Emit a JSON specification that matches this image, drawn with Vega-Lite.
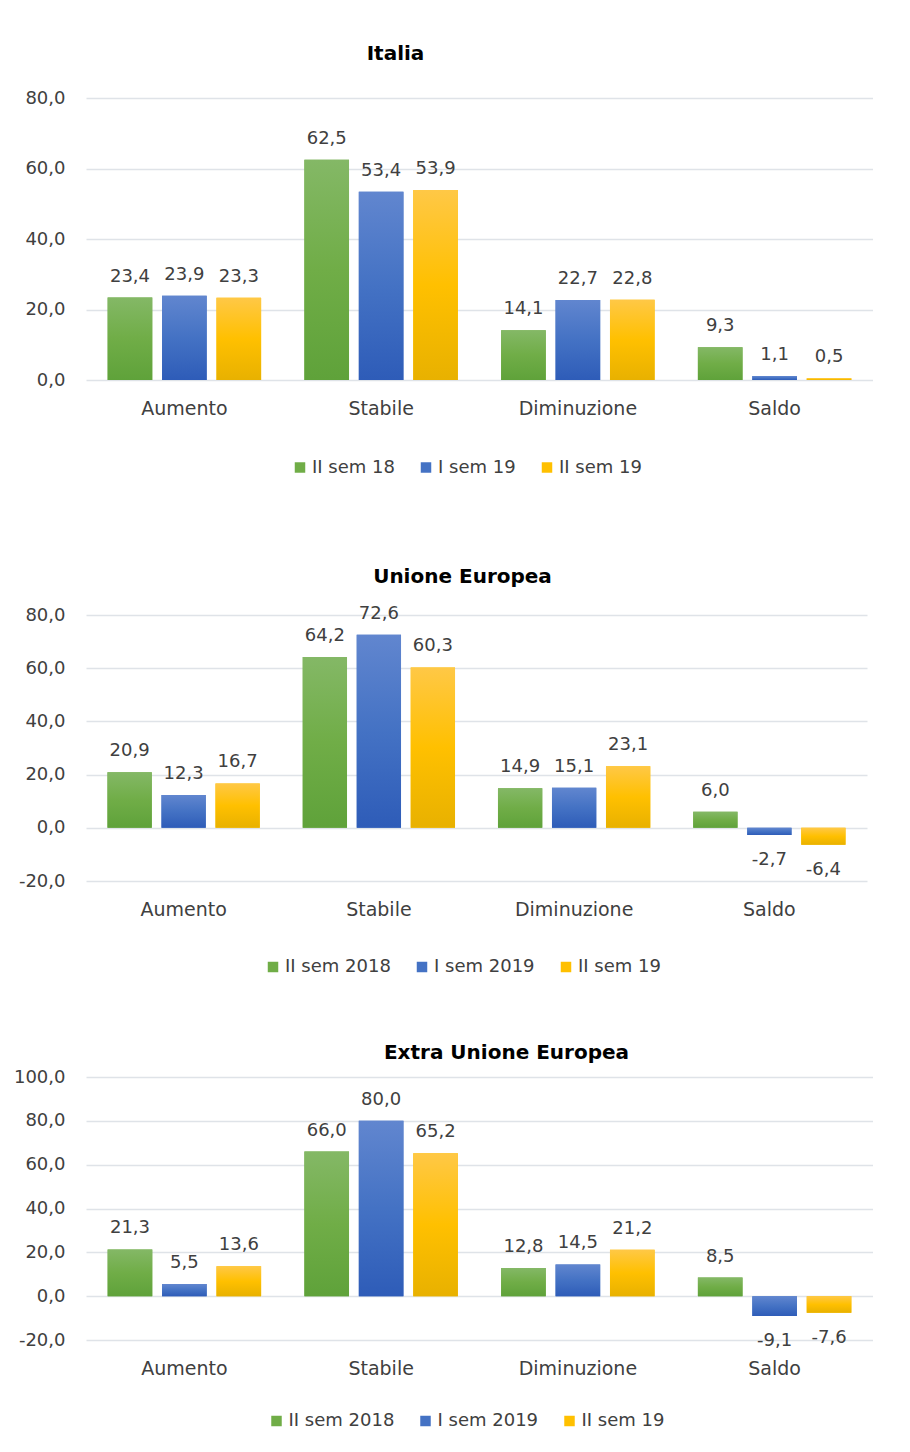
{
  "$schema": "https://vega.github.io/schema/vega-lite/v6.json",
  "background": "white",
  "padding": {"left": 13, "top": 44, "right": 0, "bottom": 0},
  "spacing": 67,
  "config": {
    "locale": {"number": {"decimal": ",", "thousands": ".", "grouping": [3], "currency": ["€", ""], "minus": "-"}},
    "font": "DejaVu Sans",
    "view": {"stroke": null},
    "title": {"fontSize": 20, "fontWeight": "bold", "color": "#000000", "font": "DejaVu Sans"},
    "axis": {"labelFont": "DejaVu Sans", "labelFontSize": 18, "labelColor": "#404040", "domain": false, "ticks": false, "gridColor": "#dfe3e8", "gridWidth": 1.5, "title": null},
    "axisX": {"labelAngle": 0, "labelPadding": 19, "grid": false, "labelFontSize": 19},
    "axisY": {"labelPadding": 21, "format": ".1f"},
    "legend": {"orient": "none", "direction": "horizontal", "title": null, "symbolType": "square", "symbolSize": 110, "symbolStrokeWidth": 0, "labelFont": "DejaVu Sans", "labelFontSize": 18, "labelColor": "#404040", "columnPadding": 22, "labelOffset": 3},
    "text": {"font": "DejaVu Sans", "fontSize": 18, "fill": "#404040"}
  },
  "datasets": {
    "italia": [
      {"categoria": "Aumento", "serie": "II sem 18", "valore": 23.4},
      {"categoria": "Aumento", "serie": "I sem 19", "valore": 23.9},
      {"categoria": "Aumento", "serie": "II sem 19", "valore": 23.3},
      {"categoria": "Stabile", "serie": "II sem 18", "valore": 62.5},
      {"categoria": "Stabile", "serie": "I sem 19", "valore": 53.4},
      {"categoria": "Stabile", "serie": "II sem 19", "valore": 53.9},
      {"categoria": "Diminuzione", "serie": "II sem 18", "valore": 14.1},
      {"categoria": "Diminuzione", "serie": "I sem 19", "valore": 22.7},
      {"categoria": "Diminuzione", "serie": "II sem 19", "valore": 22.8},
      {"categoria": "Saldo", "serie": "II sem 18", "valore": 9.3},
      {"categoria": "Saldo", "serie": "I sem 19", "valore": 1.1},
      {"categoria": "Saldo", "serie": "II sem 19", "valore": 0.5}
    ],
    "ue": [
      {"categoria": "Aumento", "serie": "II sem 2018", "valore": 20.9},
      {"categoria": "Aumento", "serie": "I sem 2019", "valore": 12.3},
      {"categoria": "Aumento", "serie": "II sem 19", "valore": 16.7},
      {"categoria": "Stabile", "serie": "II sem 2018", "valore": 64.2},
      {"categoria": "Stabile", "serie": "I sem 2019", "valore": 72.6},
      {"categoria": "Stabile", "serie": "II sem 19", "valore": 60.3},
      {"categoria": "Diminuzione", "serie": "II sem 2018", "valore": 14.9},
      {"categoria": "Diminuzione", "serie": "I sem 2019", "valore": 15.1},
      {"categoria": "Diminuzione", "serie": "II sem 19", "valore": 23.1},
      {"categoria": "Saldo", "serie": "II sem 2018", "valore": 6.0},
      {"categoria": "Saldo", "serie": "I sem 2019", "valore": -2.7},
      {"categoria": "Saldo", "serie": "II sem 19", "valore": -6.4}
    ],
    "extra": [
      {"categoria": "Aumento", "serie": "II sem 2018", "valore": 21.3},
      {"categoria": "Aumento", "serie": "I sem 2019", "valore": 5.5},
      {"categoria": "Aumento", "serie": "II sem 19", "valore": 13.6},
      {"categoria": "Stabile", "serie": "II sem 2018", "valore": 66.0},
      {"categoria": "Stabile", "serie": "I sem 2019", "valore": 80.0},
      {"categoria": "Stabile", "serie": "II sem 19", "valore": 65.2},
      {"categoria": "Diminuzione", "serie": "II sem 2018", "valore": 12.8},
      {"categoria": "Diminuzione", "serie": "I sem 2019", "valore": 14.5},
      {"categoria": "Diminuzione", "serie": "II sem 19", "valore": 21.2},
      {"categoria": "Saldo", "serie": "II sem 2018", "valore": 8.5},
      {"categoria": "Saldo", "serie": "I sem 2019", "valore": -9.1},
      {"categoria": "Saldo", "serie": "II sem 19", "valore": -7.6}
    ]
  },
  "vconcat": [
    {
      "data": {"name": "italia"},
      "width": 787,
      "height": 282,
      "title": {"text": "Italia", "dx": -84, "offset": 25},
      "encoding": {
        "x": {"field": "categoria", "type": "nominal", "sort": ["Aumento", "Stabile", "Diminuzione", "Saldo"], "scale": {"paddingInner": 0.22, "paddingOuter": 0.11}},
        "xOffset": {"field": "serie", "type": "nominal", "sort": ["II sem 18", "I sem 19", "II sem 19"], "scale": {"domain": ["II sem 18", "I sem 19", "II sem 19"], "paddingInner": 0.18, "paddingOuter": 0}},
        "y": {"field": "valore", "type": "quantitative", "scale": {"domain": [0, 80], "nice": false}, "axis": {"values": [0, 20, 40, 60, 80]}}
      },
      "layer": [
        {
          "mark": {"type": "bar"},
          "encoding": {
            "color": {"field": "serie", "type": "nominal", "scale": {"domain": ["II sem 18", "I sem 19", "II sem 19"], "range": ["#70ad47", "#4472c4", "#ffc000"]}, "legend": {"legendX": 182.5, "legendY": 338, "padding": 22.5}}
          }
        },
        {
          "transform": [{"filter": "datum.serie === 'II sem 18'"}],
          "mark": {"type": "bar", "color": {"gradient": "linear", "x1": 0, "y1": 0, "x2": 0, "y2": 1, "stops": [{"offset": 0, "color": "#84b866"}, {"offset": 0.5, "color": "#70ad47"}, {"offset": 1, "color": "#5fa23a"}]}}
        },
        {
          "transform": [{"filter": "datum.serie === 'I sem 19'"}],
          "mark": {"type": "bar", "color": {"gradient": "linear", "x1": 0, "y1": 0, "x2": 0, "y2": 1, "stops": [{"offset": 0, "color": "#6186cf"}, {"offset": 0.5, "color": "#4472c4"}, {"offset": 1, "color": "#2e5cb8"}]}}
        },
        {
          "transform": [{"filter": "datum.serie === 'II sem 19'"}],
          "mark": {"type": "bar", "color": {"gradient": "linear", "x1": 0, "y1": 0, "x2": 0, "y2": 1, "stops": [{"offset": 0, "color": "#ffc846"}, {"offset": 0.5, "color": "#ffc000"}, {"offset": 1, "color": "#e8b100"}]}}
        },
        {
          "transform": [{"filter": "datum.valore >= 0"}],
          "mark": {"type": "text", "baseline": "bottom", "dy": -12},
          "encoding": {"text": {"field": "valore", "type": "quantitative", "format": ".1f"}}
        }
      ]
    },
    {
      "data": {"name": "ue"},
      "width": 781,
      "height": 266,
      "title": {"text": "Unione Europea", "dx": -14, "offset": 18},
      "encoding": {
        "x": {"field": "categoria", "type": "nominal", "sort": ["Aumento", "Stabile", "Diminuzione", "Saldo"], "scale": {"paddingInner": 0.22, "paddingOuter": 0.11}},
        "xOffset": {"field": "serie", "type": "nominal", "sort": ["II sem 2018", "I sem 2019", "II sem 19"], "scale": {"domain": ["II sem 2018", "I sem 2019", "II sem 19"], "paddingInner": 0.18, "paddingOuter": 0}},
        "y": {"field": "valore", "type": "quantitative", "scale": {"domain": [-20, 80], "nice": false}, "axis": {"values": [-20, 0, 20, 40, 60, 80]}}
      },
      "layer": [
        {
          "mark": {"type": "bar"},
          "encoding": {
            "color": {"field": "serie", "type": "nominal", "scale": {"domain": ["II sem 2018", "I sem 2019", "II sem 19"], "range": ["#70ad47", "#4472c4", "#ffc000"]}, "legend": {"legendX": 178, "legendY": 343}}
          }
        },
        {
          "transform": [{"filter": "datum.serie === 'II sem 2018'"}],
          "mark": {"type": "bar", "color": {"gradient": "linear", "x1": 0, "y1": 0, "x2": 0, "y2": 1, "stops": [{"offset": 0, "color": "#84b866"}, {"offset": 0.5, "color": "#70ad47"}, {"offset": 1, "color": "#5fa23a"}]}}
        },
        {
          "transform": [{"filter": "datum.serie === 'I sem 2019'"}],
          "mark": {"type": "bar", "color": {"gradient": "linear", "x1": 0, "y1": 0, "x2": 0, "y2": 1, "stops": [{"offset": 0, "color": "#6186cf"}, {"offset": 0.5, "color": "#4472c4"}, {"offset": 1, "color": "#2e5cb8"}]}}
        },
        {
          "transform": [{"filter": "datum.serie === 'II sem 19'"}],
          "mark": {"type": "bar", "color": {"gradient": "linear", "x1": 0, "y1": 0, "x2": 0, "y2": 1, "stops": [{"offset": 0, "color": "#ffc846"}, {"offset": 0.5, "color": "#ffc000"}, {"offset": 1, "color": "#e8b100"}]}}
        },
        {
          "transform": [{"filter": "datum.valore >= 0"}],
          "mark": {"type": "text", "baseline": "bottom", "dy": -12},
          "encoding": {"text": {"field": "valore", "type": "quantitative", "format": ".1f"}}
        },
        {
          "transform": [{"filter": "datum.valore < 0"}],
          "mark": {"type": "text", "baseline": "top", "dy": 16},
          "encoding": {"text": {"field": "valore", "type": "quantitative", "format": ".1f"}}
        }
      ]
    },
    {
      "data": {"name": "extra"},
      "width": 787,
      "height": 263,
      "title": {"text": "Extra Unione Europea", "dx": 27, "offset": 5},
      "encoding": {
        "x": {"field": "categoria", "type": "nominal", "sort": ["Aumento", "Stabile", "Diminuzione", "Saldo"], "scale": {"paddingInner": 0.22, "paddingOuter": 0.11}},
        "xOffset": {"field": "serie", "type": "nominal", "sort": ["II sem 2018", "I sem 2019", "II sem 19"], "scale": {"domain": ["II sem 2018", "I sem 2019", "II sem 19"], "paddingInner": 0.18, "paddingOuter": 0}},
        "y": {"field": "valore", "type": "quantitative", "scale": {"domain": [-20, 100], "nice": false}, "axis": {"values": [-20, 0, 20, 40, 60, 80, 100]}}
      },
      "layer": [
        {
          "mark": {"type": "bar"},
          "encoding": {
            "color": {"field": "serie", "type": "nominal", "scale": {"domain": ["II sem 2018", "I sem 2019", "II sem 19"], "range": ["#70ad47", "#4472c4", "#ffc000"]}, "legend": {"legendX": 181.5, "legendY": 335}}
          }
        },
        {
          "transform": [{"filter": "datum.serie === 'II sem 2018'"}],
          "mark": {"type": "bar", "color": {"gradient": "linear", "x1": 0, "y1": 0, "x2": 0, "y2": 1, "stops": [{"offset": 0, "color": "#84b866"}, {"offset": 0.5, "color": "#70ad47"}, {"offset": 1, "color": "#5fa23a"}]}}
        },
        {
          "transform": [{"filter": "datum.serie === 'I sem 2019'"}],
          "mark": {"type": "bar", "color": {"gradient": "linear", "x1": 0, "y1": 0, "x2": 0, "y2": 1, "stops": [{"offset": 0, "color": "#6186cf"}, {"offset": 0.5, "color": "#4472c4"}, {"offset": 1, "color": "#2e5cb8"}]}}
        },
        {
          "transform": [{"filter": "datum.serie === 'II sem 19'"}],
          "mark": {"type": "bar", "color": {"gradient": "linear", "x1": 0, "y1": 0, "x2": 0, "y2": 1, "stops": [{"offset": 0, "color": "#ffc846"}, {"offset": 0.5, "color": "#ffc000"}, {"offset": 1, "color": "#e8b100"}]}}
        },
        {
          "transform": [{"filter": "datum.valore >= 0"}],
          "mark": {"type": "text", "baseline": "bottom", "dy": -12},
          "encoding": {"text": {"field": "valore", "type": "quantitative", "format": ".1f"}}
        },
        {
          "transform": [{"filter": "datum.valore < 0"}],
          "mark": {"type": "text", "baseline": "top", "dy": 16},
          "encoding": {"text": {"field": "valore", "type": "quantitative", "format": ".1f"}}
        }
      ]
    }
  ],
  "resolve": {"scale": {"color": "independent", "y": "independent", "x": "independent", "xOffset": "independent"}, "legend": {"color": "independent"}}
}
